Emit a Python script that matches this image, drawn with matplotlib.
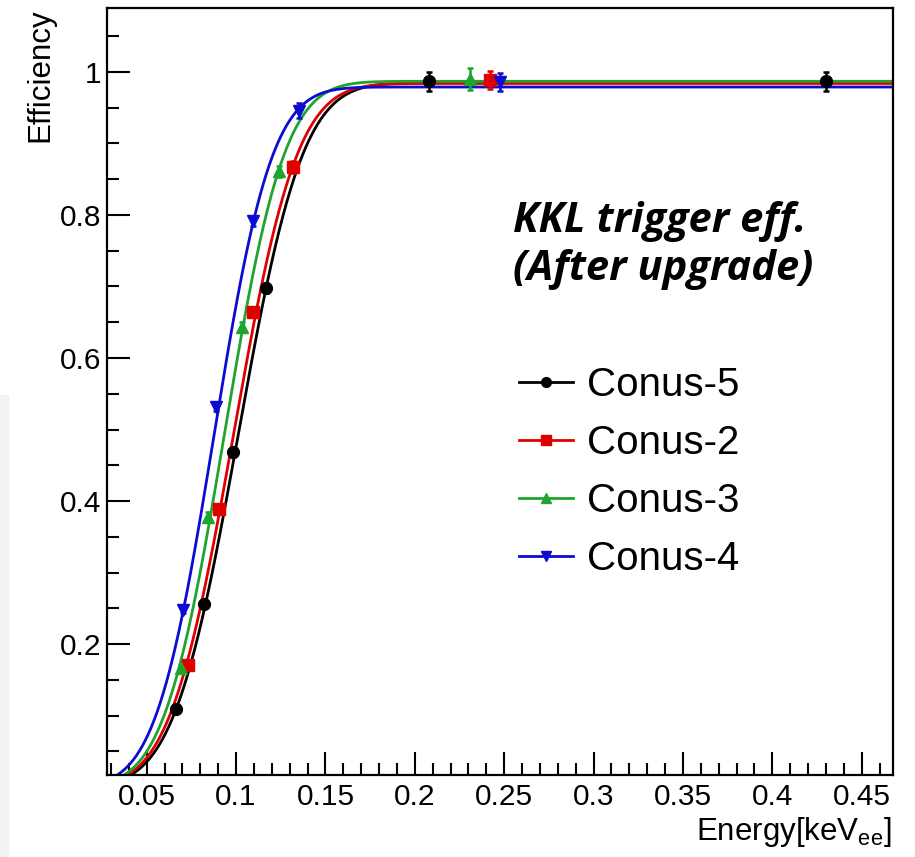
import math
import numpy as np
import matplotlib
matplotlib.use("Agg")
import matplotlib.pyplot as plt
from matplotlib.patches import Rectangle
from matplotlib.ticker import MultipleLocator, FormatStrFormatter

plt.rcParams['font.family'] = ['Liberation Sans', 'DejaVu Sans']
plt.rcParams['mathtext.fontset'] = 'custom'
plt.rcParams['mathtext.rm'] = 'Liberation Sans'
plt.rcParams['mathtext.it'] = 'Liberation Sans:italic'

# detectors, in legend order
detectors = ['Conus-5', 'Conus-2', 'Conus-3', 'Conus-4']
colors = ['#000000', '#e00000', '#1fa52f', '#0c0cd0']
markers = ['o', 's', '^', 'v']

# measured trigger efficiency points
energy_c5 = [0.0664, 0.0822, 0.0985, 0.1166, 0.208, 0.430]
eff_c5 = [0.109, 0.256, 0.468, 0.698, 0.987, 0.987]
err_c5 = [0.004, 0.005, 0.006, 0.007, 0.013, 0.013]

energy_c2 = [0.0729, 0.0904, 0.1093, 0.132, 0.242]
eff_c2 = [0.171, 0.389, 0.664, 0.867, 0.989]
err_c2 = [0.005, 0.006, 0.007, 0.008, 0.013]

energy_c3 = [0.0692, 0.0845, 0.1031, 0.124, 0.231]
eff_c3 = [0.166, 0.378, 0.644, 0.861, 0.990]
err_c3 = [0.005, 0.006, 0.007, 0.008, 0.015]

energy_c4 = [0.0705, 0.0886, 0.1097, 0.1352, 0.2477]
eff_c4 = [0.248, 0.532, 0.792, 0.946, 0.986]
err_c4 = [0.005, 0.006, 0.007, 0.010, 0.013]

# erf fit results: plateau, mean, sigma
fit_plateau = [0.985, 0.984, 0.987, 0.979]
fit_mean = [0.1012, 0.0985, 0.0935, 0.0875]
fit_sigma = [0.0284, 0.0280, 0.0265, 0.0255]

energies = [energy_c5, energy_c2, energy_c3, energy_c4]
effs = [eff_c5, eff_c2, eff_c3, eff_c4]
errs = [err_c5, err_c2, err_c3, err_c4]

W, H = 915, 857
fig = plt.figure(figsize=(W / 100, H / 100), dpi=100)
fig.patches.append(Rectangle((0, 0), 8 / W, (H - 395) / H, transform=fig.transFigure,
                             color='#f2f2f2', zorder=0))

ax = fig.add_axes([107 / W, (H - 775) / H, (893 - 107) / W, (775 - 8) / H])
xmin, xmax = 0.0278, 0.4675
ax.set_xlim(xmin, xmax)
ax.set_ylim(0.0168, 1.0895)

xs = np.linspace(xmin, xmax, 800)
erf = np.vectorize(math.erf)
for i, name in enumerate(detectors):
    curve = fit_plateau[i] * 0.5 * (1 + erf((xs - fit_mean[i]) / (math.sqrt(2) * fit_sigma[i])))
    ax.plot(xs, curve, color=colors[i], lw=2.0, zorder=2)
    ax.errorbar(energies[i], effs[i], yerr=errs[i], fmt=markers[i], color=colors[i],
                ms=8.5, elinewidth=1.8, capsize=2.5, capthick=1.8, zorder=3)

# legend handles: line with marker
handles = [ax.plot([], [], color=c, marker=m, ms=7, lw=2.0)[0]
           for c, m in zip(colors, markers)]
leg = fig.legend(handles, detectors, loc='upper left', bbox_to_anchor=(519 / W, 1 - 366 / H),
                 frameon=False, fontsize=29, handlelength=1.35, handletextpad=0.35,
                 labelspacing=0.5, borderpad=0, borderaxespad=0)

title_font = ['Open Sans', 'DejaVu Sans']
fig.text(513 / W, 1 - 232 / H, 'KKL trigger eff.', fontsize=30, fontweight='bold',
         fontstyle='italic', family=title_font, va='baseline', ha='left')
fig.text(513 / W, 1 - 280 / H, '(After upgrade)', fontsize=30, fontweight='bold',
         fontstyle='italic', family=title_font, va='baseline', ha='left')

ax.xaxis.set_major_locator(MultipleLocator(0.05))
ax.xaxis.set_minor_locator(MultipleLocator(0.01))
ax.yaxis.set_major_locator(MultipleLocator(0.2))
ax.yaxis.set_minor_locator(MultipleLocator(0.05))
ax.xaxis.set_major_formatter(FormatStrFormatter('%g'))
ax.yaxis.set_major_formatter(FormatStrFormatter('%g'))
ax.tick_params(which='both', direction='in', width=1.5, labelsize=21.5, top=False, right=False)
ax.tick_params(which='major', length=16.5)
ax.tick_params(which='minor', length=8.5)
ax.tick_params(axis='x', pad=6)
ax.tick_params(axis='y', pad=4)
for s in ax.spines.values():
    s.set_linewidth(1.6)

fig.text(40 / W, 1 - 8 / H, 'Efficiency', rotation=90, ha='center', va='top', fontsize=22.5)
fig.text(891 / W, 1 - 840 / H, r'Energy[keV$_{\rm ee}$]', ha='right', va='baseline', fontsize=22.5)

fig.savefig('out.png', dpi=100)
